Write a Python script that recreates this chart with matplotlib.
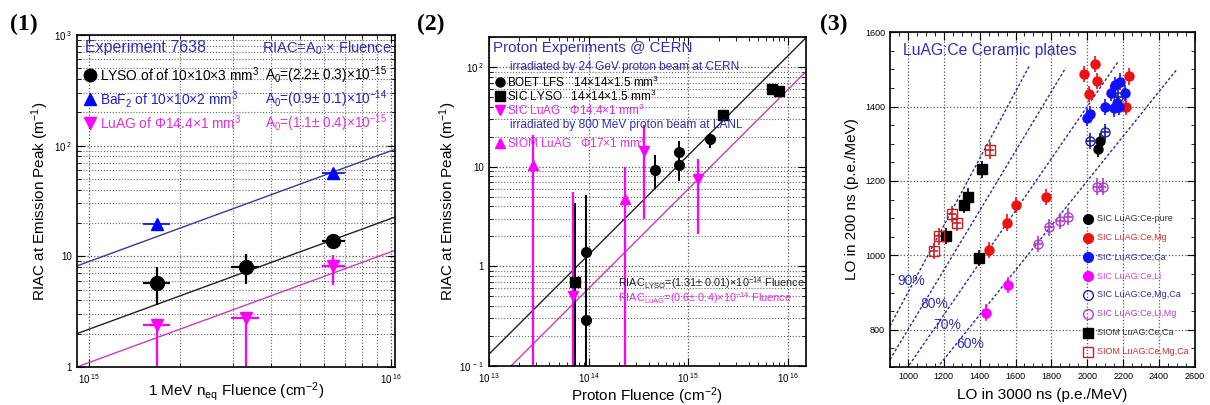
import numpy as np
import matplotlib.pyplot as plt
from matplotlib.ticker import FuncFormatter, LogLocator, MultipleLocator, NullFormatter, FixedLocator

plt.rcParams['font.family'] = ['Liberation Sans', 'DejaVu Sans']
plt.rcParams['mathtext.fontset'] = 'custom'
plt.rcParams['mathtext.rm'] = 'Liberation Sans'
plt.rcParams['mathtext.it'] = 'Liberation Sans:italic'
plt.rcParams['mathtext.bf'] = 'Liberation Sans:bold'

# ---- panel 1: neutron fluence ----
p1_fluence = [1.68e15, 3.3e15, 6.4e15]
p1_fluence_lo = [1.5e15, 2.95e15, 5.9e15]
p1_fluence_hi = [1.85e15, 3.65e15, 7.0e15]
p1_lyso = [5.7, 8.0, 13.8]
p1_lyso_lo = [3.6, 5.6, 12.0]
p1_lyso_hi = [8.0, 10.5, 15.6]
p1_baf2_fluence = [1.68e15, 6.4e15]
p1_baf2 = [19.6, 57.0]
p1_luag = [2.4, 2.8, 8.2]
p1_luag_lo = [0.5, 0.5, 5.5]
p1_luag_hi = [2.4, 2.8, 10.3]
p1_a0 = [2.2e-15, 0.9e-14, 1.1e-15]   # LYSO, BaF2, LuAG fits

# ---- panel 2: proton fluence ----
boet_x = [9.5e13, 9.5e13, 4.6e14, 8.1e14, 8.1e14, 1.66e15]
boet_y = [1.38, 0.29, 9.3, 10.5, 14.0, 19.0]
boet_lo = [0.05, 0.05, 6.0, 7.2, 11.5, 15.5]
boet_hi = [5.2, 5.2, 13.0, 12.5, 18.0, 22.0]
siclyso_x = [7.3e13, 2.2e15, 6.9e15, 8.0e15]
siclyso_y = [0.69, 33.0, 60.0, 58.0]
siclyso_lo = [0.05, 29.0, 56.0, 54.0]
siclyso_hi = [4.3, 37.0, 64.0, 62.0]
sicluag_x = [7.0e13, 3.6e14, 1.26e15]
sicluag_y = [0.51, 14.5, 7.6]
sicluag_lo = [0.05, 3.0, 2.1]
sicluag_hi = [5.6, 26.0, 12.0]
siomluag_x = [2.8e13, 2.3e14]
siomluag_y = [10.3, 4.8]
siomluag_lo = [0.05, 0.05]
siomluag_hi = [21.0, 10.0]
p2_a0 = [1.31e-14, 0.6e-14]   # LYSO, LuAG fits

# ---- panel 3: LuAG:Ce ceramics ----
cepure_x = [2070, 2062]
cepure_y = [1307, 1285]
cemg_x = [2043, 1982, 2052, 2010, 2235, 2216, 1769, 1601, 1550, 1453]
cemg_y = [1514, 1487, 1469, 1434, 1481, 1398, 1156, 1135, 1088, 1014]
ceca_x = [1997, 2018, 2098, 2150, 2175, 2134, 2153, 2182, 2208, 2165]
ceca_y = [1370, 1380, 1398, 1395, 1400, 1436, 1458, 1467, 1436, 1410]
celi_x = [1559, 1435]
celi_y = [920, 846]
cemgca_x = [2015, 2101, 2172]
cemgca_y = [1307, 1332, 1425]
celimg_x = [2052, 2085, 1723, 1786, 1850, 1893]
celimg_y = [1185, 1185, 1030, 1075, 1093, 1104]
siomca_x = [1413, 1336, 1312, 1212, 1395]
siomca_y = [1231, 1158, 1135, 1052, 993]
siommgca_x = [1458, 1248, 1276, 1175, 1148]
siommgca_y = [1282, 1111, 1088, 1051, 1012]
ratios = [0.9, 0.8, 0.7, 0.6]
ratio_labels = ['90%', '80%', '70%', '60%']
ratio_end_x = [1680, 1880, 2170, 2500]
ratio_label_x = [1020, 1148, 1221, 1345]
ratio_label_y = [932, 870, 812, 763]

BLUE = '#0000ff'
MAG = '#ff00ff'
TXTBLUE = '#3030b0'
TXTMAG = '#e030e0'


def root_log(v, pos):
    e = int(round(np.log10(v)))
    if e == 0:
        return '1'
    if e == 1:
        return '10'
    return r'$10^{\ %d}$' % e


def style_log(ax, xminor_grid=True):
    ax.set_xscale('log')
    ax.set_yscale('log')
    ax.tick_params(which='both', direction='in', top=True, right=True, labelsize=7)
    ax.tick_params(which='major', length=6)
    ax.tick_params(which='minor', length=3)
    ax.xaxis.set_major_formatter(FuncFormatter(root_log))
    ax.yaxis.set_major_formatter(FuncFormatter(root_log))
    ax.xaxis.set_minor_formatter(NullFormatter())
    ax.yaxis.set_minor_formatter(NullFormatter())
    ax.yaxis.set_minor_locator(LogLocator(subs=np.arange(2, 10)))
    ax.xaxis.set_minor_locator(LogLocator(subs=np.arange(2, 10)))
    ax.grid(True, which='major', ls=':', color='#555555', lw=0.9)
    ax.grid(True, which='minor', axis='y', ls=':', color='#666666', lw=0.8)
    if xminor_grid:
        ax.grid(True, which='minor', axis='x', ls=':', color='#666666', lw=0.8)
    for s in ax.spines.values():
        s.set_linewidth(1.2)


def asym(vals, lo, hi):
    return [np.array(vals) - np.array(lo), np.array(hi) - np.array(vals)]


def key(ax, x, y, marker, color, ms, mfc=None):
    ax.plot([x], [y], marker=marker, color=color, mfc=color if mfc is None else mfc,
            ms=ms, ls='none', transform=ax.transAxes, clip_on=False)


def put_xlabel(ax, text, y):
    ax.set_xlabel(text, fontsize=11)
    ax.xaxis.label.set_va('center')
    ax.xaxis.set_label_coords(0.5, y)


fig = plt.figure(figsize=(12.1, 4.05), dpi=100)

# ================= panel 1 =================
ax1 = fig.add_axes([0.0636, 0.0938, 0.263, 0.820])
style_log(ax1)
ax1.set_xlim(9.1e14, 1.03e16)
ax1.set_ylim(1, 1000)
ax1.xaxis.set_major_locator(FixedLocator([1e15, 1e16]))

xf = np.logspace(np.log10(9.1e14), np.log10(1.03e16), 50)
for a0, c in zip(p1_a0, ['#222222', '#3a3a9a', '#c040c0']):
    ax1.plot(xf, a0 * xf, color=c, lw=1.0)

xerr1 = asym(p1_fluence, p1_fluence_lo, p1_fluence_hi)
ax1.errorbar(p1_fluence, p1_luag, yerr=asym(p1_luag, p1_luag_lo, p1_luag_hi), xerr=xerr1,
             fmt='v', color=MAG, ms=9, elinewidth=1.6, capsize=0)
ax1.errorbar(p1_fluence, p1_lyso, yerr=asym(p1_lyso, p1_lyso_lo, p1_lyso_hi), xerr=xerr1,
             fmt='o', color='black', ms=10, elinewidth=1.6, capsize=0)
ax1.errorbar(p1_baf2_fluence, p1_baf2, xerr=[xerr1[0][[0, 2]], xerr1[1][[0, 2]]],
             fmt='^', color=BLUE, ms=9, elinewidth=1.2, capsize=0)

put_xlabel(ax1, r'1 MeV n$_{\mathrm{eq}}$ Fluence (cm$^{-2}$)', -0.075)
ax1.set_ylabel(r'RIAC at Emission Peak (m$^{-1}$)', fontsize=11, labelpad=2)

ax1.text(0.025, 0.961, 'Experiment 7638', color=TXTBLUE, fontsize=11.5,
         transform=ax1.transAxes, va='center')
ax1.text(0.988, 0.961, r'RIAC=A$_0$ $\times$ Fluence', color=TXTBLUE, fontsize=10.5,
         transform=ax1.transAxes, va='center', ha='right')
rows1 = [
    (0.880, 'o', 'black', r'LYSO of of 10$\times$10$\times$3 mm$^3$', r'A$_0$=(2.2$\pm$ 0.3)$\times$10$^{-15}$', 'black'),
    (0.807, '^', BLUE, r'BaF$_2$ of 10$\times$10$\times$2 mm$^3$', r'A$_0$=(0.9$\pm$ 0.1)$\times$10$^{-14}$', '#2020d0'),
    (0.735, 'v', MAG, r'LuAG of $\Phi$14.4$\times$1 mm$^3$', r'A$_0$=(1.1$\pm$ 0.4)$\times$10$^{-15}$', TXTMAG),
]
for y, m, c, t1, t2, tc in rows1:
    key(ax1, 0.042, y, m, c, 9)
    ax1.text(0.073, y, t1, color=tc, fontsize=9.9, transform=ax1.transAxes, va='center')
    ax1.text(0.59, y, t2, color=tc, fontsize=9.8, transform=ax1.transAxes, va='center')

# ================= panel 2 =================
ax2 = fig.add_axes([0.404, 0.0963, 0.262, 0.812])
style_log(ax2, xminor_grid=False)
ax2.set_xlim(1e13, 1.5e16)
ax2.set_ylim(0.1, 200)
ax2.xaxis.set_major_locator(FixedLocator([1e13, 1e14, 1e15, 1e16]))
ax2.yaxis.set_major_locator(FixedLocator([0.1, 1, 10, 100]))

xf2 = np.logspace(13, np.log10(1.5e16), 50)
for a0, c in zip(p2_a0, ['#222222', '#c040c0']):
    ax2.plot(xf2, a0 * xf2, color=c, lw=1.0)

ax2.errorbar(siomluag_x, siomluag_y, yerr=asym(siomluag_y, siomluag_lo, siomluag_hi),
             fmt='^', color=MAG, ms=7, elinewidth=1.6, capsize=0)
ax2.errorbar(sicluag_x, sicluag_y, yerr=asym(sicluag_y, sicluag_lo, sicluag_hi),
             fmt='v', color=MAG, ms=7, elinewidth=1.6, capsize=0)
ax2.errorbar(siclyso_x, siclyso_y, yerr=asym(siclyso_y, siclyso_lo, siclyso_hi),
             fmt='s', color='black', ms=7, elinewidth=1.4, capsize=0)
ax2.errorbar(boet_x, boet_y, yerr=asym(boet_y, boet_lo, boet_hi),
             fmt='o', color='black', ms=7, elinewidth=1.4, capsize=0)

put_xlabel(ax2, r'Proton Fluence (cm$^{-2}$)', -0.092)
ax2.set_ylabel(r'RIAC at Emission Peak (m$^{-1}$)', fontsize=11, labelpad=0)

ax2.text(0.012, 0.967, 'Proton Experiments @ CERN', color=TXTBLUE, fontsize=10.9,
         transform=ax2.transAxes, va='center')
ax2.text(0.066, 0.909, 'irradiated by 24 GeV proton beam at CERN', color=TXTBLUE, fontsize=8.6,
         transform=ax2.transAxes, va='center')
rows2 = [
    (0.863, 'o', 'black', r'BOET LFS   14$\times$14$\times$1.5 mm$^3$', 'black'),
    (0.821, 's', 'black', r'SIC LYSO   14$\times$14$\times$1.5 mm$^3$', 'black'),
    (0.778, 'v', MAG, r'SIC LuAG   $\Phi$14.4$\times$1 mm$^3$', TXTMAG),
    (0.678, '^', MAG, r'SIOM LuAG   $\Phi$17$\times$1 mm$^3$', TXTMAG),
]
for y, m, c, t, tc in rows2:
    key(ax2, 0.036, y, m, c, 6.5)
    ax2.text(0.058, y, t, color=tc, fontsize=8.5, transform=ax2.transAxes, va='center')
ax2.text(0.066, 0.733, 'irradiated by 800 MeV proton beam at LANL', color=TXTBLUE, fontsize=8.6,
         transform=ax2.transAxes, va='center')
ax2.text(0.407, 0.252, r'RIAC$_{\mathrm{LYSO}}$=(1.31$\pm$ 0.01)$\times$10$^{-14}$ Fluence',
         color='#222222', fontsize=7.8, transform=ax2.transAxes, va='center')
ax2.text(0.407, 0.207, r'RIAC$_{\mathrm{LuAG}}$=(0.6$\pm$ 0.4)$\times$10$^{-14}$ Fluence',
         color=TXTMAG, fontsize=7.8, transform=ax2.transAxes, va='center')

# ================= panel 3 =================
ax3 = fig.add_axes([0.7355, 0.0938, 0.252, 0.827])
ax3.set_xlim(900, 2600)
ax3.set_ylim(700, 1600)
ax3.xaxis.set_major_locator(MultipleLocator(200))
ax3.xaxis.set_minor_locator(MultipleLocator(50))
ax3.yaxis.set_major_locator(FixedLocator([800, 1000, 1200, 1400, 1600]))
ax3.yaxis.set_minor_locator(MultipleLocator(50))
ax3.tick_params(which='both', direction='in', top=True, right=True, labelsize=6.5)
ax3.tick_params(which='major', length=6)
ax3.tick_params(which='minor', length=3)
ax3.grid(True, which='major', ls=':', color='#555555', lw=0.9)
for s in ax3.spines.values():
    s.set_linewidth(1.2)

for r, xe, lab, lx, ly in zip(ratios, ratio_end_x, ratio_labels, ratio_label_x, ratio_label_y):
    xs = np.array([900, xe])
    ax3.plot(xs, r * xs, ls=(0, (2, 1.5)), color='#2a2a9a', lw=1.0)
    ax3.text(lx, ly, lab, color=TXTBLUE, fontsize=10, ha='center', va='center')

ERR = 22
series3 = [
    (cepure_x, cepure_y, 'o', 'black', 'black', 'SIC LuAG:Ce-pure', '#333333'),
    (cemg_x, cemg_y, 'o', '#ee1111', '#ee1111', 'SIC LuAG:Ce,Mg', '#d83030'),
    (ceca_x, ceca_y, 'o', '#1010ff', '#1010ff', 'SIC LuAG:Ce,Ca', '#3030c0'),
    (celi_x, celi_y, 'o', MAG, MAG, 'SIC LuAG:Ce,Li', '#e040e0'),
    (cemgca_x, cemgca_y, 'o', '#1c1c9c', 'none', 'SIC LuAG:Ce,Mg,Ca', '#303090'),
    (celimg_x, celimg_y, 'o', '#b03cd0', 'none', 'SIC LuAG:Ce,Li,Mg', '#b040c0'),
    (siomca_x, siomca_y, 's', 'black', 'black', 'SIOM LuAG:Ce,Ca', '#333333'),
    (siommgca_x, siommgca_y, 's', '#cc2020', 'none', 'SIOM LuAG:Ce,Mg,Ca', '#cc3030'),
]
for xs, ys, m, c, fc, lab, tc in series3:
    ax3.errorbar(xs, ys, xerr=ERR, yerr=ERR, fmt=m, color=c, mfc=fc, mec=c, ms=6.5,
                 elinewidth=1.2, capsize=0)

for i, (xs, ys, m, c, fc, lab, tc) in enumerate(series3):
    y = 0.442 - i * 0.0566
    key(ax3, 0.649, y, m, c, 7, mfc=fc)
    ax3.text(0.68, y, lab, color=tc, fontsize=6.5, transform=ax3.transAxes, va='center')

ax3.text(0.043, 0.946, 'LuAG:Ce Ceramic plates', color=TXTBLUE, fontsize=11.3,
         transform=ax3.transAxes, va='center')
put_xlabel(ax3, 'LO in 3000 ns (p.e./MeV)', -0.085)
ax3.set_ylabel('LO in 200 ns (p.e./MeV)', fontsize=11, labelpad=4)

# panel tags
for px, tag in [(0.008, '(1)'), (0.345, '(2)'), (0.678, '(3)')]:
    fig.text(px, 0.94, tag, fontsize=17, fontweight='bold', family='Liberation Serif', va='center')

fig.savefig('out.png', dpi=100)
